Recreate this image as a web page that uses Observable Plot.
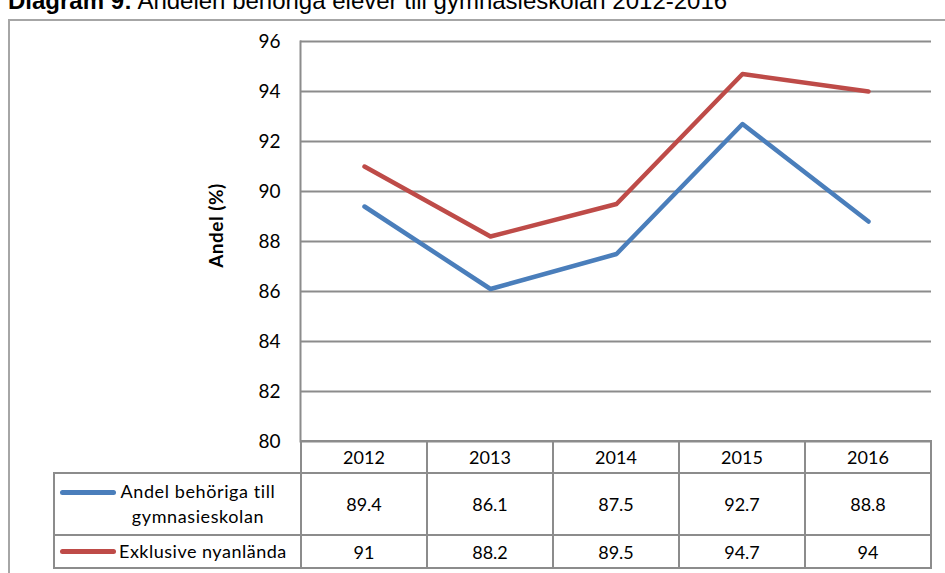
<!DOCTYPE html>
<html>
<head>
<meta charset="utf-8">
<script src="https://cdn.jsdelivr.net/npm/d3@7"></script>
<script src="https://cdn.jsdelivr.net/npm/@observablehq/plot@0.6"></script>
<style>
  body { margin: 0; background: #fff; }
  #wrap { position: relative; width: 945px; height: 573px; overflow: hidden; background: #fff; font-family: Lato, "Open Sans", sans-serif; }
  #frame { position: absolute; left: 8px; top: 19px; width: 960px; height: 620px; border: 2px solid #a6a6a6; box-sizing: border-box; }
  #title { position: absolute; left: 8px; top: -11px; font-family: "Liberation Sans", Arial, sans-serif; font-size: 24px; line-height: 24px; white-space: nowrap; color: #000; }
  #chart { position: absolute; left: 0; top: 0; }
  .cell { position: absolute; box-sizing: border-box; border: 2px solid #8c8c8c; display: flex; align-items: center; justify-content: center; font-size: 18px; color: #000; background: transparent; }
  .legend { justify-content: flex-start; align-items: flex-start; padding: 5px 0 0 5px; }
  .swatch { width: 56px; height: 4.5px; border-radius: 2.5px; margin-top: 11px; flex: none; }
  .ltext { text-align: center; line-height: 25px; flex: none; width: 162px; margin-left: 1px; letter-spacing: 0.6px; white-space: nowrap; }
</style>
</head>
<body>
<div id="wrap">
  <div id="frame"></div>
  <div id="title"><b>Diagram 9:</b> Andelen behöriga elever till gymnasieskolan 2012-2016</div>
  <div id="chart"></div>
</div>
<script>
const years = [2012, 2013, 2014, 2015, 2016];
const seriesNames = ["Andel behöriga till gymnasieskolan", "Exklusive nyanlända"];
const behoriga = [89.4, 86.1, 87.5, 92.7, 88.8];
const exklusive = [91, 88.2, 89.5, 94.7, 94];
const yTicks = [80, 82, 84, 86, 88, 90, 92, 94, 96];
const colors = ["#4a7ebb", "#be4b48"];
const yLabel = "Andel (%)";

const seriesValues = [behoriga, exklusive];
const data = seriesNames.flatMap((s, k) => years.map((yr, i) => ({year: yr, value: seriesValues[k][i], series: s})));

const chart = Plot.plot({
  width: 945,
  height: 443,
  marginTop: 41,
  marginBottom: 2,
  marginLeft: 300,
  marginRight: 14,
  style: {fontFamily: "Lato, sans-serif", fontSize: "19px", color: "#000", background: "transparent", overflow: "visible"},
  x: {type: "band", domain: years, padding: 0, axis: null},
  y: {domain: [80, 96], ticks: yTicks, tickSize: 0, tickPadding: 20, label: null},
  color: {domain: seriesNames, range: colors},
  marks: [
    Plot.ruleY(yTicks, {stroke: "#8c8c8c", strokeWidth: 2}),
    Plot.frame({anchor: "left", stroke: "#8c8c8c", strokeWidth: 2}),
    Plot.line(data, {x: "year", y: "value", z: "series", stroke: "series", strokeWidth: 4.5, strokeLinecap: "round", strokeLinejoin: "round"}),
    Plot.text([yLabel], {frameAnchor: "left", textAnchor: "middle", rotate: -90, dx: -84, dy: -16, fontWeight: "bold", fontSize: 19, fill: "#000", style: "letter-spacing:0.5px"})
  ]
});
document.getElementById("chart").appendChild(chart);
chart.querySelectorAll("text").forEach(t => { if (t.textContent === yLabel) t.style.letterSpacing = "0.5px"; });

// Data table under the chart, aligned on the x band scale
const xs = chart.scale("x");
const bw = xs.bandwidth;
const rowY = [441, 473, 535, 568];
const legendLeft = 54;
const wrap = document.getElementById("wrap");
function cell(x0, x1, y0, y1, html, cls) {
  const d = document.createElement("div");
  d.className = "cell" + (cls ? " " + cls : "");
  d.style.left = (x0 - 1) + "px";
  d.style.top = (y0 - 1) + "px";
  d.style.width = (x1 - x0 + 2) + "px";
  d.style.height = (y1 - y0 + 2) + "px";
  d.innerHTML = html;
  wrap.appendChild(d);
  return d;
}
years.forEach(yr => {
  const x0 = xs.apply(yr);
  cell(x0, x0 + bw, rowY[0], rowY[1], String(yr));
});
const plotLeft = xs.apply(years[0]);
const legendText = ["Andel behöriga till<br>gymnasieskolan", "Exklusive nyanlända"];
seriesValues.forEach((vals, k) => {
  const y0 = rowY[k + 1], y1 = rowY[k + 2];
  const lc = cell(legendLeft, plotLeft, y0, y1,
    `<span class="swatch" style="background:${colors[k]}"></span><span class="ltext">${legendText[k]}</span>`, "legend");
  if (k === 1) {
    lc.style.alignItems = "center"; lc.style.paddingTop = "0";
    lc.querySelector(".swatch").style.marginTop = "0";
    const t = lc.querySelector(".ltext"); t.style.textAlign = "left"; t.style.width = "auto"; t.style.marginLeft = "3px"; t.style.letterSpacing = "0.5px";
  }
  years.forEach((yr, i) => {
    const x0 = xs.apply(yr);
    cell(x0, x0 + bw, y0, y1, String(vals[i]));
  });
});
</script>
</body>
</html>
